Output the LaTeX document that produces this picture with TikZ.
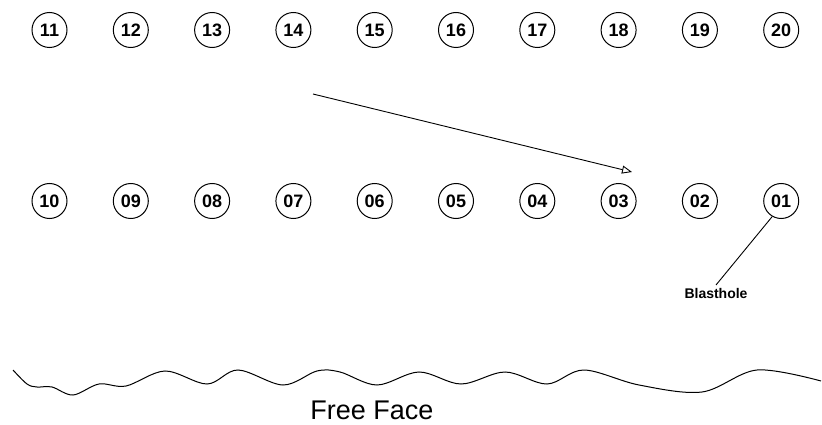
\documentclass[tikz,border=0pt]{standalone}
\usepackage{fontspec}
\setmainfont{Liberation Sans}
\usetikzlibrary{arrows.meta}

\tikzset{
    hole/.style={draw, circle, line width=1pt, minimum size=35pt, inner sep=0pt, font=\bfseries\fontsize{18}{18}\selectfont},
    face/.style={line width=1pt},
}

\begin{document}
\begin{tikzpicture}[x=1pt,y=-1pt]
        \def\dx{81.3}
        \def\xo{49.5}
        \def\ytop{30}
        \def\ybot{201}
        \useasboundingbox (0,0) rectangle (822,425);

        % top row, 11 to 20
        \foreach \i in {0,...,9} {
                \pgfmathtruncatemacro{\n}{11+\i}
                \node [hole] (h\n) at (\xo+\i*\dx,\ytop) {\n};
            }
        % bottom row, 10 down to 01
        \foreach \i in {0,...,9} {
                \pgfmathtruncatemacro{\n}{10-\i}
                \ifnum\n<10
                    \edef\name{0\n}
                \else
                    \edef\name{\n}
                \fi
                \node [hole] (h\name) at (\xo+\i*\dx,\ybot) {\name};
            }

        % firing direction
        \coordinate (dirA) at (313,94);
        \coordinate (dirB) at (632,172);
        \draw [line width=0.9pt, -{Triangle[open,length=10pt,width=8pt]}] (dirA) -- (dirB);

        \node [font=\bfseries\fontsize{14}{14}\selectfont, anchor=north] (blast) at (716,285) {Blasthole};
        \draw [line width=0.9pt] (h01.240) -- (blast.north);

        % free face
        \draw [face] plot [smooth, tension=0.55] coordinates {
                (13,370) (27,384) (37,387) (52,387) (73,395) (99,384) (126,386)
                (165,371) (207,384) (238,370) (283,385) (317,371) (340,372)
                (377,385) (419,372) (461,384) (505,372) (547,384) (584,370)
                (639,385) (702,392) (757,370) (821,381)
            };
        \node [font=\fontsize{27}{27}\selectfont] (free) at (372,410) {Free Face};

    \end{tikzpicture}
\end{document}
